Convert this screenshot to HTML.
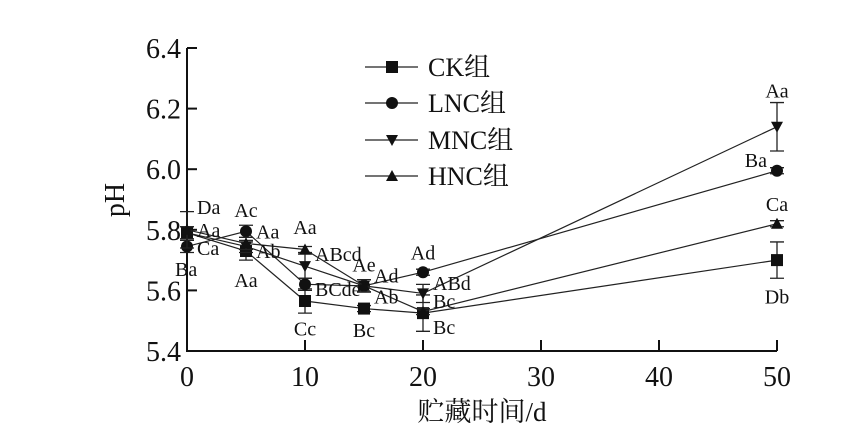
<!DOCTYPE html>
<html><head><meta charset="utf-8"><style>
body{margin:0;background:#fff}
svg text{font-family:"Liberation Serif","Noto Serif CJK SC",serif;fill:#111}
</style></head><body>
<svg width="864" height="435" viewBox="0 0 864 435">
<g id="axes"></g>
<g id="series"></g>
<g id="legend"></g>
</svg>
<script>
const days=[0,5,10,15,20,50];
const ck=[5.79,5.73,5.565,5.54,5.525,5.70];
const lnc=[5.745,5.795,5.62,5.615,5.66,5.995];
const mnc=[5.79,5.745,5.68,5.615,5.59,6.14];
const hnc=[5.80,5.755,5.735,5.615,5.53,5.82];
const ckErr=[0.02,0.03,0.04,0.01,0.06,0.06];
const lncErr=[0.02,0.02,0.02,0.02,0.01,0.01];
const mncErr=[0.02,0.02,0.04,0.02,0.03,0.08];
const hncErr=[0.06,0.02,0.01,0.02,0.01,0.01];
const xTicks=[0,10,20,30,40,50];
const yTicks=[5.4,5.6,5.8,6.0,6.2,6.4];
const seriesNames=["CK组","LNC组","MNC组","HNC组"];
const letters=[
 ["Da",0,5.875,"s"],["Aa",0,5.80,"e"],["Ca",0,5.74,"e"],["Ba",0,5.67,"e2"],
 ["Ac",5,5.865,"n"],["Aa",5,5.795,"e"],["Ab",5,5.73,"e"],["Aa",5,5.635,"s"],
 ["Aa",10,5.81,"n"],["ABcd",10,5.72,"e"],["BCde",10,5.605,"e"],["Cc",10,5.475,"s"],
 ["Ae",15,5.685,"n"],["Ad",15,5.65,"e"],["Ab",15,5.58,"e"],["Bc",15,5.47,"s"],
 ["Ad",20,5.725,"n"],["ABd",20,5.625,"e"],["Bc",20,5.565,"e"],["Bc",20,5.48,"e"],
 ["Aa",50,6.26,"n"],["Ba",50,6.03,"w"],["Ca",50,5.885,"n"],["Db",50,5.58,"s"]];
const NS="http://www.w3.org/2000/svg";
const X=v=>187+v*11.8, Y=v=>351-(v-5.4)*303;
function mk(t,a,p){const e=document.createElementNS(NS,t);for(const k in a)e.setAttribute(k,a[k]);p.appendChild(e);return e;}
const ax=document.getElementById('axes');
let l=mk('path',{d:`M${X(0)} ${Y(6.4)}V${Y(5.4)}H${X(50)}`,fill:'none',stroke:'#111','stroke-width':2},ax);


yTicks.forEach(v=>{
 let t=mk('line',{x1:X(0),x2:X(0)+10,y1:Y(v),y2:Y(v),stroke:'#111','stroke-width':2},ax);
 
 
 let s=mk('text',{x:X(0)-6,y:Y(v)+10,'text-anchor':'end','font-size':28},ax);s.textContent=v.toFixed(1);
 
 
});
xTicks.forEach(v=>{
 let t=mk('line',{x1:X(v),x2:X(v),y1:Y(5.4),y2:Y(5.4)-11,stroke:'#111','stroke-width':2},ax);
 
 
 let s=mk('text',{x:X(v),y:386,'text-anchor':'middle','font-size':28},ax);s.textContent=v;
 
 
});
let xt=mk('text',{x:482,y:421,'text-anchor':'middle','font-size':27},ax);xt.textContent='贮藏时间/d';


let yt=mk('text',{x:124,y:200,'text-anchor':'middle','font-size':28,transform:'rotate(-90 124 200)'},ax);yt.textContent='pH';



function marker(kind,x,y,p){
 if(kind==0)return mk('rect',{x:x-6,y:y-6,width:12,height:12,fill:'#111'},p);
 if(kind==1)return mk('circle',{cx:x,cy:y,r:6,fill:'#111'},p);
 if(kind==2)return mk('path',{d:`M${x-6} ${y-5}H${x+6}L${x} ${y+6}Z`,fill:'#111'},p);
 return mk('path',{d:`M${x-6} ${y+5}H${x+6}L${x} ${y-6}Z`,fill:'#111'},p);
}
const sg=document.getElementById('series');
[[ck,ckErr],[lnc,lncErr],[mnc,mncErr],[hnc,hncErr]].forEach(([vals,errs],k)=>{
 let pl=mk('polyline',{points:days.map((d,i)=>X(d)+','+Y(vals[i])).join(' '),fill:'none',stroke:'#222','stroke-width':1.2},sg);
 
 
 days.forEach((d,i)=>{
  let e=mk('path',{d:`M${X(d)} ${Y(vals[i]-errs[i])}V${Y(vals[i]+errs[i])}M${X(d)-7} ${Y(vals[i]-errs[i])}h14M${X(d)-7} ${Y(vals[i]+errs[i])}h14`,stroke:'#222','stroke-width':1.3,fill:'none'},sg);
  
  
  let m=marker(k,X(d),Y(vals[i]),sg);
  
  
 });
});
letters.forEach(([txt,d,v,pos])=>{
 let x=X(d),anchor='middle';
 if(pos=='e'){x+=10;anchor='start';}
 if(pos=='e2'){x-=12;anchor='start';}
 if(pos=='w'){x-=10;anchor='end';}
 if(pos=='s'&&d==0){x+=10;anchor='start';}
 let t=mk('text',{x:x,y:Y(v)+7,'text-anchor':anchor,'font-size':20},sg);t.textContent=txt;
 
 
});
const lg=document.getElementById('legend');
const ly=[67,103,140,176];
seriesNames.forEach((n,k)=>{
 let g=mk('g',{},lg);
 
 
 mk('line',{x1:365,x2:418,y1:ly[k],y2:ly[k],stroke:'#222','stroke-width':1.3},g);
 marker(k,392,ly[k],g);
 let t=mk('text',{x:428,y:ly[k]+9,'font-size':26},g);t.textContent=n;
});
</script>
</body></html>
